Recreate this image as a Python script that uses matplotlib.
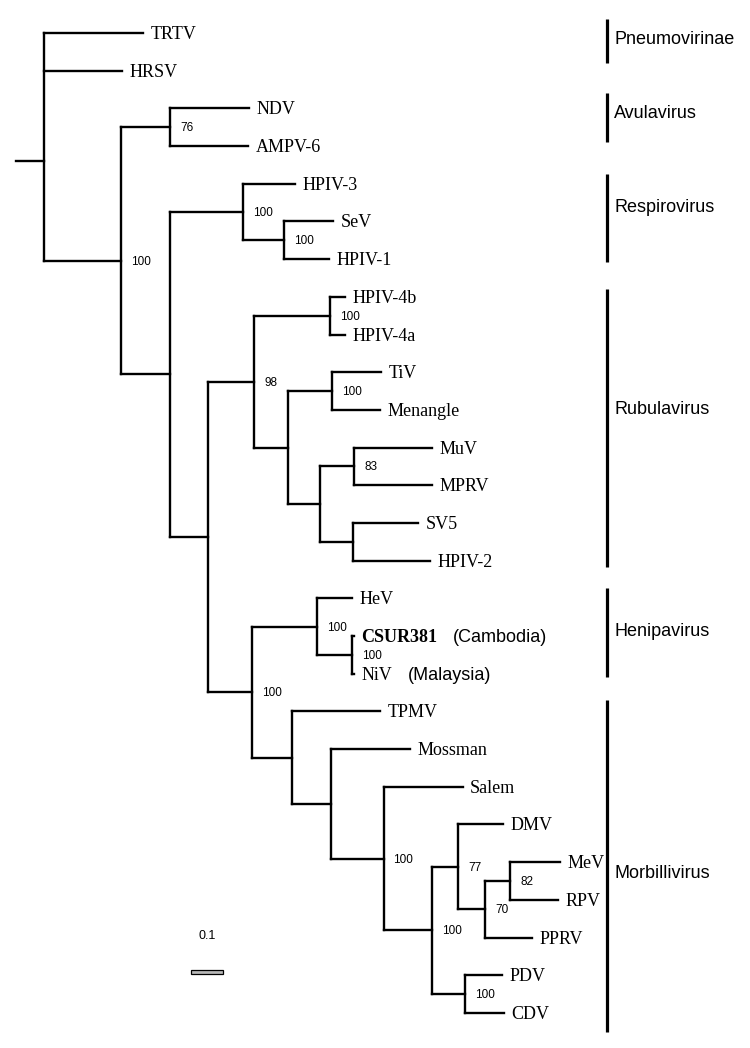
import matplotlib
matplotlib.use('Agg')
import matplotlib.pyplot as plt
from matplotlib.transforms import offset_copy
from matplotlib.patches import Rectangle
from matplotlib.collections import LineCollection

# ---------------- data ----------------
node_names = ['root', 'TRTV', 'HRSV', 'n1', 'n_avula', 'NDV', 'AMPV-6', 'n2', 'n_resp',
              'HPIV-3', 'n_sev', 'SeV', 'HPIV-1', 'n3', 'n_rubula', 'n_hpiv4', 'HPIV-4b',
              'HPIV-4a', 'n4', 'n_tiv', 'TiV', 'Menangle', 'n5', 'n_muv', 'MuV', 'MPRV',
              'n_sv5', 'SV5', 'HPIV-2', 'n6', 'n_heni', 'HeV', 'n_niv', 'CSUR381', 'NiV',
              'n_morb', 'TPMV', 'n7', 'Mossman', 'n8', 'Salem', 'n9', 'n10', 'DMV', 'n11',
              'n12', 'MeV', 'RPV', 'PPRV', 'n13', 'PDV', 'CDV']
node_parents = [None, 'root', 'root', 'root', 'n1', 'n_avula', 'n_avula', 'n1', 'n2',
                'n_resp', 'n_resp', 'n_sev', 'n_sev', 'n2', 'n3', 'n_rubula', 'n_hpiv4',
                'n_hpiv4', 'n_rubula', 'n4', 'n_tiv', 'n_tiv', 'n4', 'n5', 'n_muv', 'n_muv',
                'n5', 'n_sv5', 'n_sv5', 'n3', 'n6', 'n_heni', 'n_heni', 'n_niv', 'n_niv',
                'n6', 'n_morb', 'n_morb', 'n7', 'n7', 'n8', 'n8', 'n9', 'n10', 'n10', 'n11',
                'n12', 'n12', 'n11', 'n9', 'n13', 'n13']
branch_lengths = [0.0, 0.309, 0.244, 0.241, 0.153, 0.247, 0.244, 0.153, 0.228,
                  0.163, 0.128, 0.153, 0.141, 0.119, 0.144, 0.238, 0.047,
                  0.047, 0.106, 0.138, 0.153, 0.150, 0.100, 0.106, 0.244, 0.244,
                  0.103, 0.203, 0.241, 0.138, 0.203, 0.109, 0.109, 0.006, 0.006,
                  0.125, 0.275, 0.122, 0.247, 0.163, 0.247, 0.153, 0.081, 0.138, 0.084,
                  0.078, 0.156, 0.150, 0.147, 0.103, 0.113, 0.119]
support_nodes = ['n_avula', 'n1', 'n_resp', 'n_sev', 'n_hpiv4', 'n_rubula', 'n_tiv', 'n_muv',
                 'n_heni', 'n_niv', 'n6', 'n8', 'n10', 'n12', 'n11', 'n9', 'n13']
support_values = [76, 100, 100, 100, 100, 98, 100, 83, 100, 100, 100, 100, 77, 82, 70, 100, 100]

clade_names = ['Pneumovirinae', 'Avulavirus', 'Respirovirus', 'Rubulavirus',
               'Henipavirus', 'Morbillivirus']
clade_first = ['TRTV', 'NDV', 'HPIV-3', 'HPIV-4b', 'HeV', 'TPMV']
clade_last = ['HRSV', 'AMPV-6', 'HPIV-1', 'HPIV-2', 'NiV', 'CDV']

bold_leaves = ['CSUR381']
leaf_notes = {'CSUR381': '(Cambodia)', 'NiV': '(Malaysia)'}
scale_length = 0.1
scale_label = '0.1'

# ---------------- layout ----------------
DPI = 100
fig = plt.figure(figsize=(7.5, 10.48), dpi=DPI)
ax = fig.add_axes([0, 0, 1, 1])
PX_PER_UNIT = 320.0
ROOT_PX = 44.0
LEAF0_PX = 33.0
LEAF_STEP = 37.69
ax.set_xlim(-ROOT_PX / PX_PER_UNIT, (750 - ROOT_PX) / PX_PER_UNIT)
ax.set_ylim((1048 - LEAF0_PX) / LEAF_STEP, -LEAF0_PX / LEAF_STEP)
ax.axis('off')

serif = ['Liberation Serif', 'DejaVu Serif']
sans = ['Liberation Sans', 'DejaVu Sans']

children = {n: [] for n in node_names}
parent_of = dict(zip(node_names, node_parents))
blen = dict(zip(node_names, branch_lengths))
for n, p in zip(node_names, node_parents):
    if p is not None:
        children[p].append(n)

xpos, ypos = {}, {}
leaf_counter = [0]
y_override = {'n1': 6.05}   # drawn position of this node in the source figure
root_stub_y = 3.4
root_stub_len = 28 / PX_PER_UNIT


def layout(n, x):
    xpos[n] = x
    if not children[n]:
        ypos[n] = leaf_counter[0]
        leaf_counter[0] += 1
    else:
        for c in children[n]:
            layout(c, x + blen[c])
        ypos[n] = (ypos[children[n][0]] + ypos[children[n][-1]]) / 2
        if n in y_override:
            ypos[n] = y_override[n]


layout('root', 0.0)
ypos['root'] = root_stub_y

segs = []
for n in node_names:
    p = parent_of[n]
    if p is not None:
        segs.append([(xpos[p], ypos[n]), (xpos[n], ypos[n])])
    if children[n]:
        segs.append([(xpos[n], ypos[children[n][0]]), (xpos[n], ypos[children[n][-1]])])
segs.append([(-root_stub_len, root_stub_y), (0, root_stub_y)])
lc = LineCollection(segs, colors='black', linewidths=1.7, capstyle='projecting')
ax.add_collection(lc)

leaf_tr = offset_copy(ax.transData, fig=fig, x=7.5, y=-6, units='dots')
for n in node_names:
    if not children[n]:
        t = ax.text(xpos[n], ypos[n], n, transform=leaf_tr, family=serif, fontsize=13,
                    fontweight='bold' if n in bold_leaves else 'normal',
                    ha='left', va='baseline')
        if n in leaf_notes:
            ax.annotate(leaf_notes[n], xy=(1, 0), xycoords=t, xytext=(11, 0),
                        textcoords='offset points', family=sans, fontsize=13,
                        ha='left', va='bottom')

sup_tr = offset_copy(ax.transData, fig=fig, x=10, y=-4, units='dots')
for n, v in zip(support_nodes, support_values):
    ax.text(xpos[n], ypos[n], str(v), transform=sup_tr, family=sans, fontsize=8.5,
            ha='left', va='baseline')

# clade bars
bar_x = (607 - ROOT_PX) / PX_PER_UNIT
bar_pad_top = [14, 15, 10, 8, 10, 11]
bar_pad_bottom = [-8, -4, 3, 6, 3, 19]
label_y_px = [37, 112, 206, 407, 630, 871]
lab_tr = offset_copy(ax.transData, fig=fig, x=7, y=-6.5, units='dots')
for name, f, l, pt, pb, ly in zip(clade_names, clade_first, clade_last,
                                   bar_pad_top, bar_pad_bottom, label_y_px):
    y0 = ypos[f] - pt / LEAF_STEP
    y1 = ypos[l] + pb / LEAF_STEP
    ax.plot([bar_x, bar_x], [y0, y1], color='black', lw=2.3, solid_capstyle='butt')
    ax.text(bar_x, (ly - LEAF0_PX) / LEAF_STEP, name, transform=lab_tr, family=sans,
            fontsize=13, ha='left', va='baseline')

# scale bar
sb_x0 = (191 - ROOT_PX) / PX_PER_UNIT
sb_y = (972 - LEAF0_PX) / LEAF_STEP
sb_h = 4 / LEAF_STEP
ax.add_patch(Rectangle((sb_x0, sb_y - sb_h / 2), scale_length, sb_h,
                       facecolor='#b8b8b8', edgecolor='black', lw=0.9))
sc_tr = offset_copy(ax.transData, fig=fig, x=0, y=33, units='dots')
ax.text(sb_x0 + scale_length / 2, sb_y, scale_label, transform=sc_tr, family=sans,
        fontsize=9, ha='center', va='baseline')

fig.savefig('out.png', dpi=DPI, facecolor='white')
